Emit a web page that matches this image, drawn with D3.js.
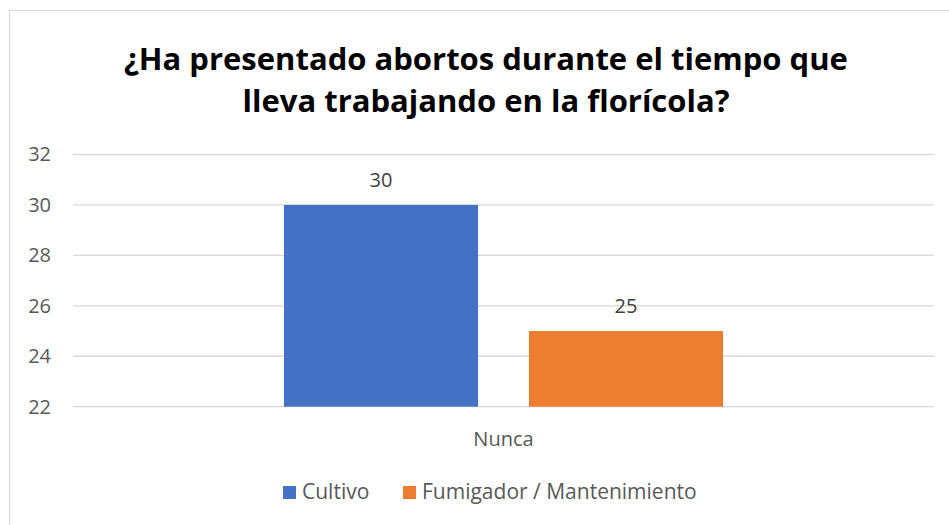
<!DOCTYPE html>
<html>
<head>
<meta charset="utf-8">
<script src="https://cdn.jsdelivr.net/npm/d3@7"></script>
<style>
  body { margin: 0; background: #fff; }
  text { font-family: "Open Sans", sans-serif; }
</style>
</head>
<body>
<svg id="chart" width="949" height="525"></svg>
<script>
// chart data
const categories = ["Nunca"];
const seriesNames = ["Cultivo", "Fumigador / Mantenimiento"];
const seriesValues = [[30], [25]];
const seriesColors = ["#4472C4", "#ED7D31"];
const yTicks = [22, 24, 26, 28, 30, 32];
const titleLines = ["¿Ha presentado abortos durante el tiempo que", "lleva trabajando en la florícola?"];

const svg = d3.select("#chart");

// outer chart border
svg.append("rect")
  .attr("x", 9.5).attr("y", 10.5)
  .attr("width", 960).attr("height", 540)
  .attr("fill", "none")
  .attr("stroke", "#d9d9d9");

// title
svg.append("g").selectAll("text")
  .data(titleLines)
  .join("text")
  .attr("x", 486)
  .attr("y", (d, i) => 70 + i * 42)
  .attr("text-anchor", "middle")
  .attr("font-size", "31px")
  .attr("font-weight", "bold")
  .attr("fill", "#000")
  .text((d) => d);

const plotLeft = 73, plotRight = 934, plotTop = 154.5, plotBottom = 406.7;

const y = d3.scaleLinear().domain([22, 32]).range([plotBottom, plotTop]);

const x0 = d3.scaleBand().domain(categories).range([plotLeft, plotRight])
  .paddingInner(0).paddingOuter(0.4805);

const x1 = d3.scaleBand().domain(seriesNames).range([0, x0.bandwidth()])
  .paddingInner(0.208).paddingOuter(0);

// gridlines
svg.append("g").selectAll("line")
  .data(yTicks)
  .join("line")
  .attr("x1", plotLeft).attr("x2", plotRight)
  .attr("y1", (d) => y(d)).attr("y2", (d) => y(d))
  .attr("stroke", "#d9d9d9")
  .attr("stroke-width", 1.3);

// y axis labels
const yAxis = svg.append("g")
  .attr("transform", "translate(" + (plotLeft - 10) + ",0)")
  .call(d3.axisLeft(y).tickValues(yTicks).tickSize(0).tickPadding(0));
yAxis.select(".domain").remove();
yAxis.selectAll("text")
  .attr("font-family", "Open Sans, sans-serif")
  .attr("font-size", "20px")
  .attr("fill", "#595959")
  .attr("x", -12);

// bars
const bars = [];
seriesNames.forEach((s, i) => {
  categories.forEach((c, j) => {
    bars.push({ series: s, cat: c, value: seriesValues[i][j], color: seriesColors[i] });
  });
});

svg.append("g").selectAll("rect")
  .data(bars)
  .join("rect")
  .attr("x", (d) => x0(d.cat) + x1(d.series))
  .attr("y", (d) => y(d.value))
  .attr("width", x1.bandwidth())
  .attr("height", (d) => y(22) - y(d.value))
  .attr("fill", (d) => d.color);

// value labels
svg.append("g").selectAll("text")
  .data(bars)
  .join("text")
  .attr("x", (d) => x0(d.cat) + x1(d.series) + x1.bandwidth() / 2)
  .attr("y", (d) => y(d.value) - 18)
  .attr("text-anchor", "middle")
  .attr("font-size", "20px")
  .attr("fill", "#404040")
  .text((d) => d.value);

// category axis
const xAxis = svg.append("g")
  .attr("transform", "translate(0," + plotBottom + ")")
  .call(d3.axisBottom(x0).tickSize(0).tickPadding(0));
xAxis.select(".domain").remove();
xAxis.selectAll("text")
  .attr("font-family", "Open Sans, sans-serif")
  .attr("font-size", "20px")
  .attr("fill", "#595959")
  .attr("dy", 0)
  .attr("y", 39);

// legend
const legendX = [283, 403];
const legend = svg.append("g").selectAll("g")
  .data(seriesNames)
  .join("g")
  .attr("transform", (d, i) => "translate(" + legendX[i] + ",486)");
legend.append("rect")
  .attr("width", 13).attr("height", 13)
  .attr("fill", (d, i) => seriesColors[i]);
legend.append("text")
  .attr("x", 19).attr("y", 13)
  .attr("font-size", "21px")
  .attr("fill", "#595959")
  .text((d) => d);
</script>
</body>
</html>
